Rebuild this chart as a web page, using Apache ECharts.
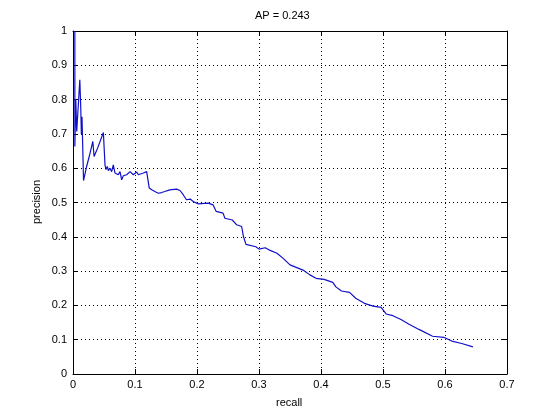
<!DOCTYPE html>
<html>
<head>
<meta charset="utf-8">
<script src="https://cdn.jsdelivr.net/npm/echarts@6/dist/echarts.min.js"></script>
<style>html,body{margin:0;padding:0;background:#fff}#c{width:560px;height:420px}</style>
</head>
<body>
<div id="c"></div>
<script>
var titleText = 'AP = 0.243';
var xLabel = 'recall';
var yLabel = 'precision';
var recall = [0.003,0.003,0.0045,0.006,0.011,0.0125,0.0135,0.0145,0.017,0.022,0.027,0.032,0.034,0.040,0.049,0.0516,0.0532,0.0554,0.057,0.0597,0.0624,0.065,0.0677,0.073,0.0758,0.0785,0.0812,0.0866,0.092,0.0946,0.0973,0.1027,0.1054,0.108,0.1134,0.1188,0.1215,0.123,0.127,0.132,0.1376,0.143,0.148,0.156,0.167,0.1726,0.178,0.183,0.189,0.194,0.202,0.218,0.226,0.231,0.242,0.245,0.257,0.264,0.272,0.275,0.279,0.295,0.300,0.310,0.316,0.329,0.339,0.350,0.371,0.382,0.392,0.405,0.419,0.424,0.433,0.446,0.456,0.470,0.484,0.497,0.505,0.516,0.529,0.542,0.558,0.580,0.598,0.611,0.627,0.645];
var precision = [1.0,0.663,0.80,0.707,0.858,0.776,0.70,0.75,0.564,0.605,0.64,0.678,0.634,0.66,0.704,0.610,0.596,0.605,0.593,0.600,0.590,0.610,0.586,0.581,0.590,0.566,0.578,0.581,0.590,0.586,0.581,0.589,0.581,0.586,0.586,0.590,0.593,0.542,0.537,0.532,0.527,0.529,0.532,0.537,0.539,0.535,0.522,0.508,0.510,0.503,0.496,0.498,0.493,0.474,0.469,0.454,0.449,0.435,0.430,0.400,0.378,0.371,0.364,0.368,0.362,0.352,0.337,0.318,0.303,0.289,0.279,0.276,0.267,0.254,0.242,0.238,0.221,0.206,0.198,0.194,0.175,0.170,0.159,0.145,0.130,0.110,0.107,0.096,0.089,0.079];
var xTicks = [0,0.1,0.2,0.3,0.4,0.5,0.6,0.7];
var yTicks = [0,0.1,0.2,0.3,0.4,0.5,0.6,0.7,0.8,0.9,1];

var pts = recall.map(function(r,i){return [r, precision[i]];});
var font = '"Liberation Sans", Arial, sans-serif';
var chart = echarts.init(document.getElementById('c'), null, {renderer:'canvas'});
function mkX(pos, showLabel){
  return {type:'value', position:pos, min:xTicks[0], max:xTicks[xTicks.length-1], interval:0.1,
    axisLine:{show:true, onZero:false, lineStyle:{color:'#000', width:1}},
    axisTick:{show:true, inside:true, length:5, lineStyle:{color:'#000'}},
    axisLabel:{show:showLabel, color:'#000', fontSize:11, fontFamily:font, margin:5},
    splitLine:{show:showLabel, lineStyle:{color:'#000', type:[1,3], width:1}}};
}
function mkY(pos, showLabel){
  return {type:'value', position:pos, min:yTicks[0], max:yTicks[yTicks.length-1], interval:0.1,
    axisLine:{show:true, onZero:false, lineStyle:{color:'#000', width:1}},
    axisTick:{show:true, inside:true, length:5, lineStyle:{color:'#000'}},
    axisLabel:{show:showLabel, color:'#000', fontSize:11, fontFamily:font, margin:6},
    splitLine:{show:showLabel, lineStyle:{color:'#000', type:[1,3], width:1}}};
}
chart.setOption({
  backgroundColor:'#fff',
  animation:false,
  grid:{left:73, right:53, top:31, bottom:46, show:false},
  xAxis:[mkX('bottom', true), mkX('top', false)],
  yAxis:[mkY('left', true), mkY('right', false)],
  series:[{type:'line', data:pts, symbol:'none', xAxisIndex:0, yAxisIndex:0,
    lineStyle:{color:'#1010c8', width:1.2}}],
  graphic:[
    {type:'text', left:290-35, top:10, style:{text:titleText, fill:'#000', font:'11px '+font}},
    {type:'text', left:290-14, top:397, style:{text:xLabel, fill:'#000', font:'11px '+font}},
    {type:'text', x:37, y:202, rotation:Math.PI/2, style:{text:yLabel, fill:'#000', font:'11px '+font, textAlign:'center', textVerticalAlign:'middle'}}
  ]
});
</script>
</body>
</html>
